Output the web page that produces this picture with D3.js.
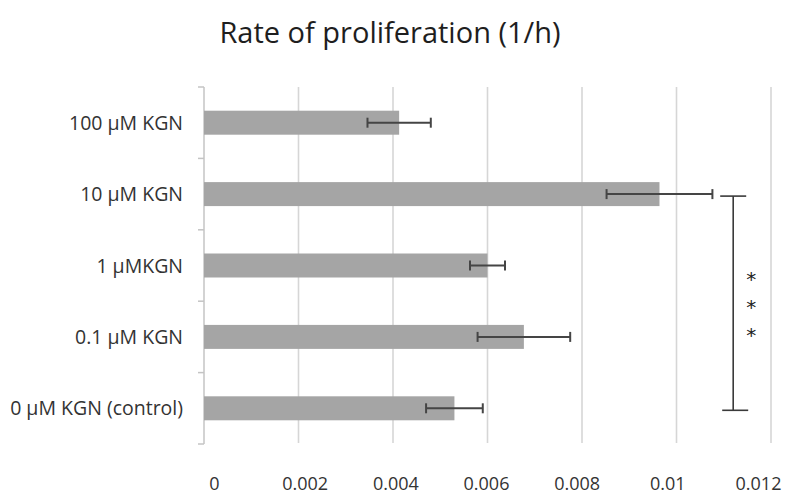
<!DOCTYPE html>
<html>
<head>
<meta charset="utf-8">
<script src="https://cdn.jsdelivr.net/npm/d3@7"></script>
<style>
    body { margin: 0; background: #fff; }
    svg { display: block; }
    text { font-family: "Open Sans", Lato, sans-serif; fill: #333; }
</style>
</head>
<body>
<div id="chart"></div>
<script>
// data, top to bottom as drawn
const categories = ['100 μM KGN', '10 μM KGN', '1 μMKGN', '0.1 μM KGN', '0 μM KGN (control)'];
const rates = [0.00413, 0.00964, 0.0060, 0.00677, 0.00530];
const errors = [0.00067, 0.00112, 0.00037, 0.00098, 0.00060];
const xTicks = [0, 0.002, 0.004, 0.006, 0.008, 0.01, 0.012];
const title = 'Rate of proliferation (1/h)';
// significance bracket: between these two groups, drawn at this x value
const sigFrom = '10 μM KGN';
const sigTo = '0 μM KGN (control)';
const sigX = 0.0112;
const sigLabel = ['*', '*', '*'];

const width = 790;
const height = 495;
const margin = { top: 87, right: 19, bottom: 51, left: 204 };

const svg = d3.select('#chart').append('svg')
    .attr('width', width)
    .attr('height', height);

const x = d3.scaleLinear()
    .domain([0, 0.012])
    .range([margin.left, width - margin.right]);

const y = d3.scaleBand()
    .domain(categories)
    .range([margin.top, height - margin.bottom])
    .paddingInner(0.664)
    .paddingOuter(0.332);

// tick labels sit a little inside the gridlines in the original
const xLabel = d3.scaleLinear()
    .domain(x.domain())
    .range([x(0) + 10, x(0.012) - 13]);

// title
svg.append('text')
    .attr('x', 390)
    .attr('y', 43)
    .attr('text-anchor', 'middle')
    .style('font-size', '29px')
    .style('fill', '#1e1e1e')
    .text(title);

// vertical gridlines
svg.append('g')
    .selectAll('line')
    .data(xTicks.filter(d => d > 0))
    .join('line')
    .attr('x1', d => x(d))
    .attr('x2', d => x(d))
    .attr('y1', margin.top)
    .attr('y2', height - margin.bottom - 1)
    .attr('stroke', '#d6d6d6')
    .attr('stroke-width', 1.6);

// x labels
const xAxis = d3.axisBottom(xLabel)
    .tickValues(xTicks)
    .tickFormat(d => String(+d.toFixed(3)))
    .tickSize(0)
    .tickPadding(0);
const xAxisG = svg.append('g')
    .attr('transform', `translate(0,${height - 5})`)
    .call(xAxis);
xAxisG.select('.domain').remove();
xAxisG.selectAll('text')
    .attr('y', 0)
    .attr('dy', 0)
    .style('font-size', '18px')
    .style('font-family', '"Open Sans", sans-serif')
    .style('fill', '#333');

// y axis: line plus ticks on band boundaries
const step = y.step();
const boundaries = d3.range(categories.length + 1).map(i => margin.top + i * step);
svg.append('line')
    .attr('x1', x(0))
    .attr('x2', x(0))
    .attr('y1', margin.top)
    .attr('y2', height - margin.bottom)
    .attr('stroke', '#c4c4c4')
    .attr('stroke-width', 1.5);
svg.append('g')
    .selectAll('line')
    .data(boundaries)
    .join('line')
    .attr('x1', x(0) - 6)
    .attr('x2', x(0))
    .attr('y1', d => d)
    .attr('y2', d => d)
    .attr('stroke', '#c4c4c4')
    .attr('stroke-width', 1.5);

// y labels
svg.append('g')
    .selectAll('text')
    .data(categories)
    .join('text')
    .attr('x', x(0) - 21)
    .attr('y', d => y(d) + y.bandwidth() / 2)
    .attr('dy', '0.36em')
    .attr('text-anchor', 'end')
    .style('font-size', '19.5px')
    .text(d => d);

// bars
svg.append('g')
    .selectAll('rect')
    .data(categories)
    .join('rect')
    .attr('x', x(0))
    .attr('y', d => y(d))
    .attr('width', (d, i) => x(rates[i]) - x(0))
    .attr('height', y.bandwidth())
    .attr('fill', '#a5a5a5');

// error bars
const eb = svg.append('g')
    .attr('stroke', '#454545')
    .attr('stroke-width', 2);
categories.forEach((c, i) => {
    const cy = y(c) + y.bandwidth() / 2;
    const lo = x(rates[i] - errors[i]);
    const hi = x(rates[i] + errors[i]);
    eb.append('line').attr('x1', lo).attr('x2', hi).attr('y1', cy).attr('y2', cy);
    eb.append('line').attr('x1', lo).attr('x2', lo).attr('y1', cy - 5).attr('y2', cy + 5);
    eb.append('line').attr('x1', hi).attr('x2', hi).attr('y1', cy - 5).attr('y2', cy + 5);
});

// significance bracket
const sigTop = y(sigFrom) + y.bandwidth() / 2 + 2;
const sigBot = y(sigTo) + y.bandwidth() / 2 + 2;
const bx = x(sigX);
const sg = svg.append('g')
    .attr('stroke', '#3a3a3a')
    .attr('stroke-width', 1.6);
sg.append('line').attr('x1', bx).attr('x2', bx).attr('y1', sigTop).attr('y2', sigBot);
sg.append('line').attr('x1', bx - 13).attr('x2', bx + 13).attr('y1', sigTop).attr('y2', sigTop);
sg.append('line').attr('x1', bx - 11).attr('x2', bx + 15).attr('y1', sigBot).attr('y2', sigBot);

const mid = (sigTop + sigBot) / 2;
svg.append('g')
    .selectAll('text')
    .data(sigLabel)
    .join('text')
    .attr('x', bx + 18)
    .attr('y', (d, i) => mid + (i - 1) * 28 + 11)
    .attr('text-anchor', 'middle')
    .style('font-family', '"DejaVu Sans", sans-serif')
    .style('font-size', '20px')
    .style('fill', '#222')
    .text(d => d);
</script>
</body>
</html>
